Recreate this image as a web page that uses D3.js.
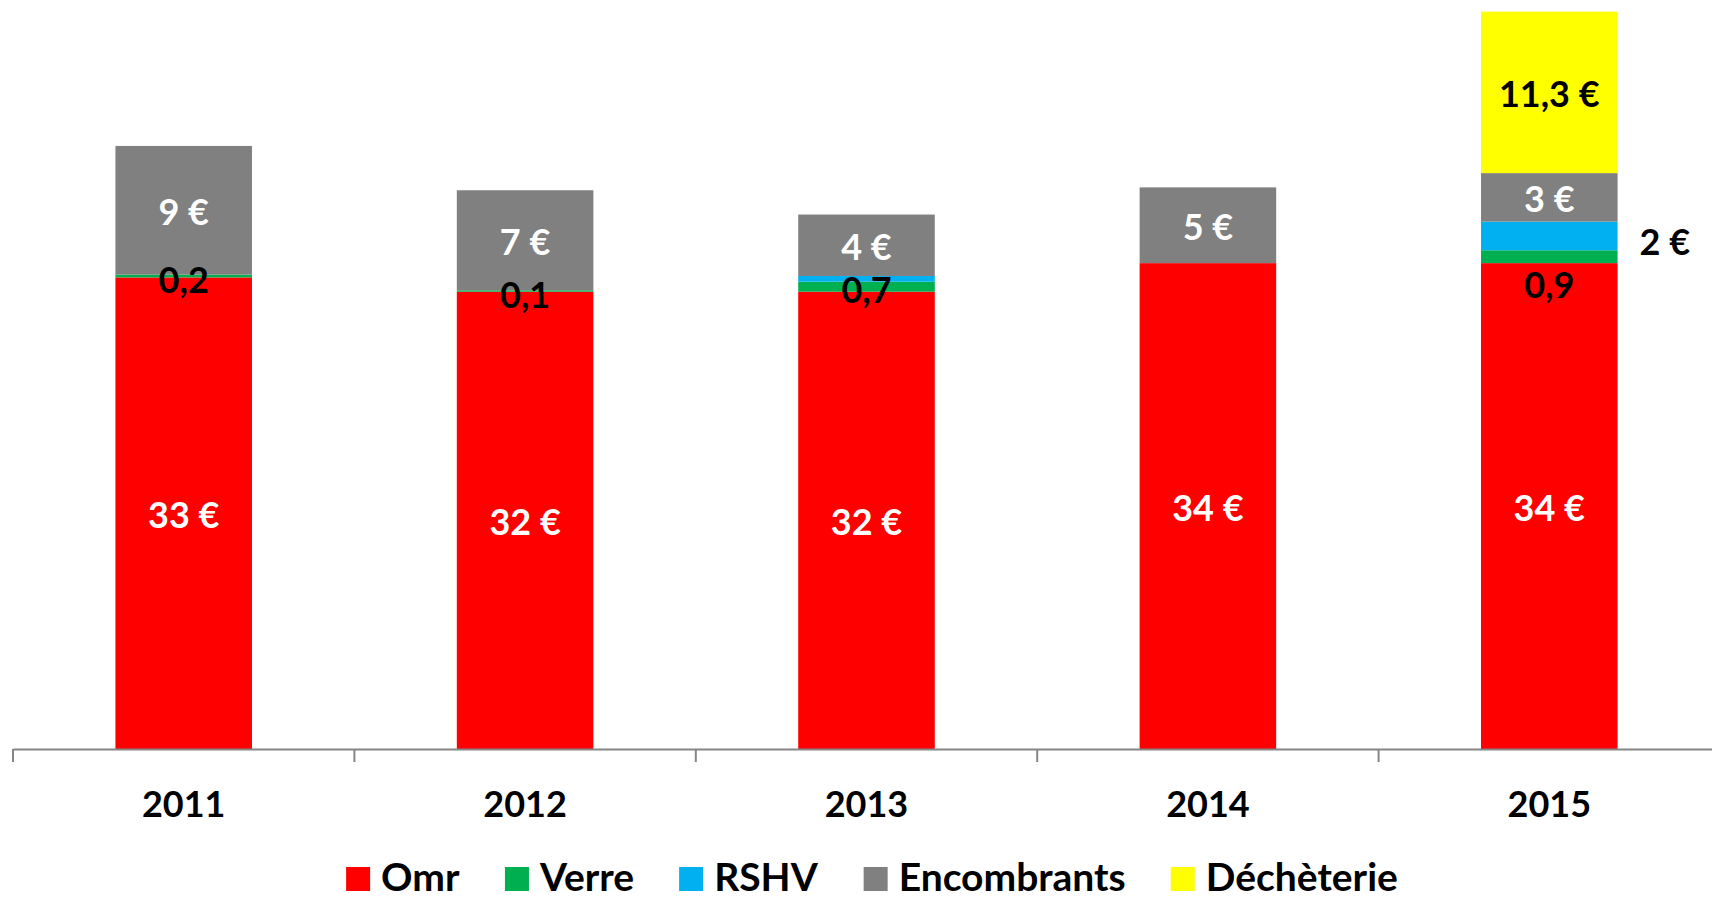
<!DOCTYPE html>
<html><head><meta charset="utf-8">
<script src="https://cdn.jsdelivr.net/npm/d3@7"></script>
<style>
html,body{margin:0;padding:0;background:#fff;overflow:hidden;}
svg text{font-family:Lato,"Open Sans",sans-serif;font-weight:700;}
</style></head>
<body><svg id="c" width="1712" height="900"></svg>
<script>
const years = ["2011","2012","2013","2014","2015"];
const seriesNames = ["Omr","Verre","RSHV","Encombrants","Déchèterie"];
const colors = ["#FF0000","#00B050","#00B0F0","#808080","#FFFF00"];
const omr = [33, 32, 32, 34, 34];
const verre = [0.2, 0.1, 0.7, 0, 0.9];
const rshv = [0, 0, 0.4, 0, 2];
const encombrants = [9, 7, 4.3, 5.3, 3.4];
const decheterie = [0, 0, 0, 0, 11.3];
const seriesValues = [omr, verre, rshv, encombrants, decheterie];

const svg = d3.select("#c");
const x = d3.scaleBand().domain(years).range([13, 1720]).padding(0);
const barW = x.bandwidth()*0.4;
const y = d3.scaleLinear().domain([0, 52]).range([749, 5.9]);

const rows = years.map((yr,i)=>{const o={year:yr}; seriesNames.forEach((s,j)=>o[s]=seriesValues[j][i]); return o;});
const stack = d3.stack().keys(seriesNames)(rows);

const g = svg.append("g");
stack.forEach((layer,j)=>{
  g.selectAll(null).data(layer).enter().append("rect")
    .attr("x", d=>x(d.data.year)+x.bandwidth()/2-barW/2)
    .attr("width", barW)
    .attr("y", d=>y(d[1]))
    .attr("height", d=>Math.max(0,y(d[0])-y(d[1])))
    .attr("fill", colors[j]);
});

// axis
const axis = d3.axisBottom(x).tickSize(0).tickPadding(40);
const ax = svg.append("g").attr("transform","translate(0,749)").call(axis);
ax.select(".domain").attr("stroke","#868686").attr("stroke-width",2);
ax.selectAll(".tick text").attr("font-size",36).attr("fill","#000").attr("dy","0.32em").attr("y",56);
// boundary ticks
const bounds = years.map(yr=>x(yr)).concat([x.range()[1]]);
ax.selectAll(".btick").data(bounds).enter().append("line")
  .attr("x1",d=>d).attr("x2",d=>d).attr("y1",0).attr("y2",13)
  .attr("stroke","#868686").attr("stroke-width",2);

// labels
const fmtInt = v=>d3.format(".0f")(v)+" €";
const fmtDec = v=>d3.format(".1f")(v).replace(".",",");
const lbl = svg.append("g").attr("font-size",36).attr("text-anchor","middle");
function addLabel(xp, yp, txt, fill, anchor){
  lbl.append("text").attr("x",xp).attr("y",yp+2).attr("dy","0.35em").attr("fill",fill)
    .attr("text-anchor",anchor||"middle").text(txt);
}
stack.forEach((layer,j)=>{
  layer.forEach((d,i)=>{
    const v = d[1]-d[0];
    if(v<=0) return;
    const cx = x(d.data.year)+x.bandwidth()/2;
    const cy = (y(d[0])+y(d[1]))/2;
    const name = seriesNames[j];
    if(name==="Omr") addLabel(cx, cy, fmtInt(v), "#fff");
    else if(name==="Encombrants") addLabel(cx, cy, fmtInt(v), "#fff");
    else if(name==="Déchèterie") addLabel(cx, cy, fmtDec(v)+" €", "#000");
    else if(name==="Verre") addLabel(cx, cy + (d.data.year==="2015"?27:2), fmtDec(v), "#000");
    else if(name==="RSHV" && v>=1) addLabel(cx+barW/2+22, cy+4, fmtInt(v), "#000", "start");
  });
});

// legend
const leg = svg.append("g");
let cur = 0;
const items = leg.selectAll("g.li").data(seriesNames).enter().append("g");
items.each(function(d,i){
  const it = d3.select(this);
  it.append("rect").attr("x",0).attr("y",-24).attr("width",24).attr("height",24).attr("fill",colors[i]);
  it.append("text").attr("x",35).attr("y",0).attr("font-size",39).attr("fill","#000").text(d);
});
items.each(function(d,i){
  const w = this.getBBox().width;
  d3.select(this).attr("transform",`translate(${cur},0)`);
  cur += w + 45;
});
const total = cur - 45;
leg.attr("transform",`translate(${872 - total/2},891)`);
</script></body></html>
